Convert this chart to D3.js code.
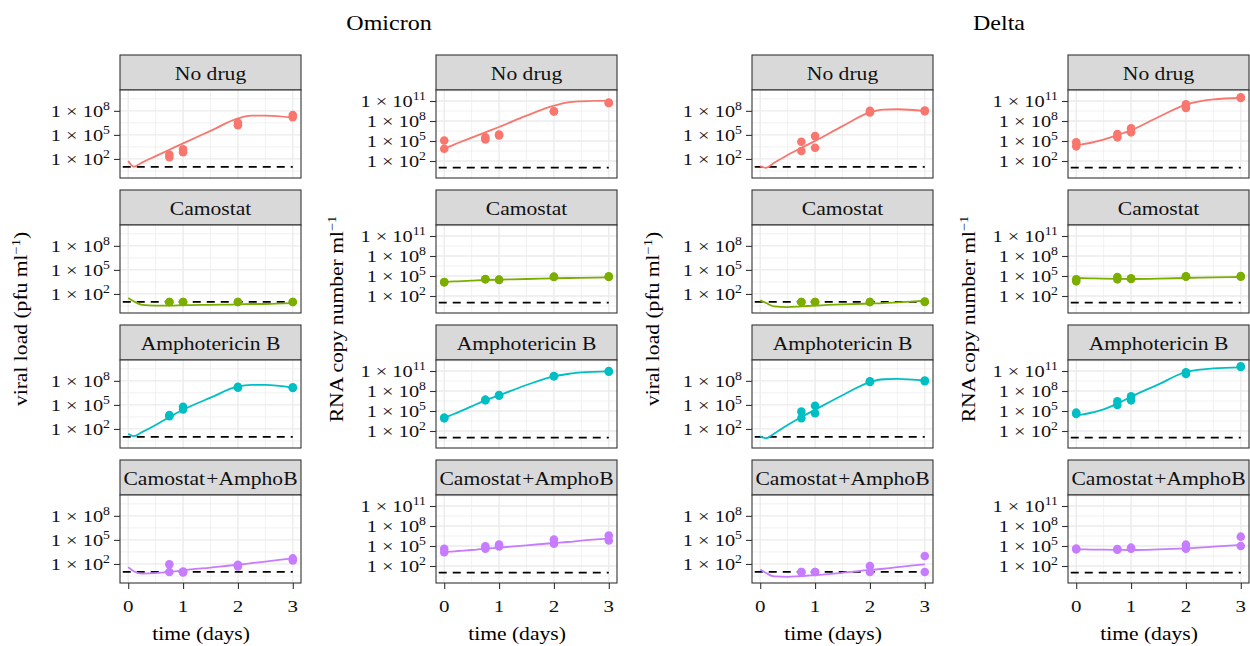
<!DOCTYPE html>
<html><head><meta charset="utf-8">
<script src="https://cdn.jsdelivr.net/npm/d3@7"></script>
<style>body{margin:0;background:#fff}</style>
</head><body>
<svg id="chart" width="1250" height="646"></svg>
<script>
// ---------- data ----------
const variants = ["Omicron", "Delta"];
const treatments = ["No drug", "Camostat", "Amphotericin B", "Camostat + AmphoB"];
const colours = ["#F8766D", "#7CAE00", "#00BFC4", "#C77CFF"];
const xTicks = [0, 1, 2, 3];
const pfuTicks = [2, 5, 8];          // log10 exponents
const rnaTicks = [2, 5, 8, 11];
const detectionLimitLog10 = 1;
const curveTimes = [0, 0.1, 0.25, 0.5, 0.75, 1, 1.5, 2, 2.25, 2.5, 3];
const pfuObsTimes = [0.75, 0.75, 1, 1, 2, 2, 3, 3];
const rnaObsTimes = [0, 0, 0.75, 0.75, 1, 1, 2, 2, 3, 3];

// model curves (log10 values at curveTimes), one row per treatment
const omicronPfuCurve = [
  [1.75, 1.05, 1.55, 2.35, 3.15, 3.95, 5.5, 7.05, 7.4, 7.4, 7.15],
  [1.5, 1.1, 0.65, 0.55, 0.55, 0.6, 0.65, 0.7, 0.75, 0.75, 0.85],
  [1.4, 1.1, 1.6, 2.5, 3.5, 4.4, 5.9, 7.3, 7.5, 7.5, 7.15],
  [1.6, 1.1, 0.8, 0.85, 1.0, 1.2, 1.55, 1.9, 2.1, 2.3, 2.7]
];
const omicronRnaCurve = [
  [3.9, 4.2, 4.7, 5.5, 6.3, 7.1, 8.8, 10.3, 10.8, 10.95, 11.05],
  [4.1, 4.15, 4.2, 4.3, 4.4, 4.45, 4.55, 4.65, 4.7, 4.72, 4.8],
  [3.95, 4.3, 4.8, 5.7, 6.6, 7.35, 8.9, 10.2, 10.55, 10.8, 10.95],
  [4.1, 4.15, 4.25, 4.4, 4.6, 4.75, 5.1, 5.45, 5.6, 5.8, 6.1]
];
const deltaPfuCurve = [
  [1.1, 0.9, 1.5, 2.5, 3.4, 4.25, 6.1, 7.8, 8.15, 8.2, 8.0],
  [1.2, 0.9, 0.45, 0.35, 0.45, 0.55, 0.7, 0.8, 0.85, 0.95, 1.15],
  [1.1, 0.85, 1.4, 2.5, 3.5, 4.4, 6.2, 7.85, 8.2, 8.25, 8.05],
  [1.3, 0.9, 0.45, 0.4, 0.5, 0.6, 0.9, 1.25, 1.4, 1.6, 1.95]
];
const deltaRnaCurve = [
  [4.45, 4.5, 4.7, 5.2, 5.9, 6.6, 8.6, 10.45, 10.95, 11.25, 11.45],
  [4.7, 4.68, 4.65, 4.6, 4.57, 4.55, 4.6, 4.7, 4.75, 4.8, 4.85],
  [4.35, 4.45, 4.7, 5.25, 6.1, 7.15, 9.0, 10.85, 11.2, 11.4, 11.55],
  [4.5, 4.5, 4.47, 4.45, 4.42, 4.4, 4.5, 4.65, 4.75, 4.9, 5.15]
];

// observations (log10 values at pfuObsTimes / rnaObsTimes)
const omicronPfuObs = [
  [2.23, 2.56, 2.85, 3.19, 6.2, 6.5, 7.22, 7.47],
  [1, 1, 1, 1, 1, 1, 1, 1],
  [3.6, 3.72, 4.44, 4.76, 7.14, 7.26, 7.1, 7.2],
  [1.0, 1.95, 0.95, 1.05, 1.7, 1.9, 2.44, 2.69]
];
const omicronRnaObs = [
  [3.83, 5.07, 5.22, 5.57, 5.82, 5.97, 9.42, 9.47, 10.7, 10.75],
  [4.05, 4.1, 4.5, 4.55, 4.42, 4.45, 4.85, 4.9, 4.85, 4.95],
  [3.9, 4.0, 6.6, 6.7, 7.3, 7.4, 10.2, 10.25, 10.9, 11.0],
  [4.07, 4.58, 4.58, 4.97, 4.92, 5.22, 5.33, 5.97, 5.82, 6.57]
];
const deltaPfuObs = [
  [3.0, 4.15, 3.4, 4.85, 7.8, 8.0, 7.95, 8.05],
  [1, 1, 1, 1, 1, 1, 1, 1.05],
  [3.33, 4.16, 3.95, 4.9, 7.85, 7.95, 7.95, 8.05],
  [1, 1, 1, 1, 1.0, 1.75, 1.0, 3.0]
];
const deltaRnaObs = [
  [4.2, 4.8, 5.55, 6.05, 6.3, 6.9, 9.95, 10.5, 11.45, 11.55],
  [4.2, 4.5, 4.5, 4.85, 4.55, 4.65, 4.9, 4.95, 4.9, 5.0],
  [4.55, 4.75, 5.9, 6.45, 6.6, 7.2, 10.55, 10.8, 11.6, 11.7],
  [4.5, 4.6, 4.45, 4.55, 4.6, 4.75, 4.6, 5.2, 5.0, 6.4]
];

// ---------- layout ----------
const FONT = "Liberation Serif, Times New Roman, serif";
const SX = 1.2; // horizontal stretch of glyphs
const colLeft = [120, 436, 752, 1068];
const panelW = 181;
const rowTop = [55, 190, 325, 460];
const stripH = 35, panelH = 88;

const columns = [
  {measure: "pfu", curves: omicronPfuCurve, obs: omicronPfuObs},
  {measure: "rna", curves: omicronRnaCurve, obs: omicronRnaObs},
  {measure: "pfu", curves: deltaPfuCurve, obs: deltaPfuObs},
  {measure: "rna", curves: deltaRnaCurve, obs: deltaRnaObs}
];

const svg = d3.select("#chart");
svg.append("rect").attr("width", 1250).attr("height", 646).attr("fill", "#fff");

function stext(parent, x, y, size, anchor, rotate) {
  const tr = `translate(${x},${y})` + (rotate ? " rotate(-90)" : "") + ` scale(${SX},1)`;
  return parent.append("text").attr("transform", tr)
    .attr("font-family", FONT).attr("font-size", size)
    .attr("text-anchor", anchor).attr("fill", "#000");
}
function powLabel(parent, x, y, exp) {
  const t = stext(parent, x, y, 17, "end").attr("dy", "0.35em").attr("fill", "#111");
  t.append("tspan").text("1 × 10");
  t.append("tspan").attr("font-size", 11.5).attr("dy", -7).text(exp);
}

// titles
stext(svg, 389, 30, 20, "middle").text(variants[0]);
stext(svg, 999, 30, 20, "middle").text(variants[1]);

const line = d3.line().curve(d3.curveMonotoneX);

columns.forEach((col, ci) => {
  const left = colLeft[ci];
  const x = d3.scaleLinear().domain([-0.15, 3.15]).range([left, left + panelW]);
  const isPfu = col.measure === "pfu";
  const yTicks = isPfu ? pfuTicks : rnaTicks;
  const yMinor = isPfu ? [0.5, 3.5, 6.5, 9.5] : [0.5, 3.5, 6.5, 9.5, 12.5];
  const yDom = isPfu ? [-0.375, 10.6] : [-0.55, 12.65];
  const obsTimes = isPfu ? pfuObsTimes : rnaObsTimes;

  treatments.forEach((name, ri) => {
    const top = rowTop[ri] + stripH, bottom = top + panelH;
    const y = d3.scaleLog().domain(yDom.map(e => Math.pow(10, e))).range([bottom, top]);
    const g = svg.append("g");
    // strip
    g.append("rect").attr("x", left).attr("y", rowTop[ri]).attr("width", panelW).attr("height", stripH)
      .attr("fill", "#D9D9D9").attr("stroke", "#333").attr("stroke-width", 1.1);
    const st = stext(g, left + panelW / 2, rowTop[ri] + 24.5, 18, "middle").attr("fill", "#111").text(name);
    if (name.indexOf("+") >= 0) st.attr("word-spacing", -3.5);
    // panel bg
    g.append("rect").attr("x", left).attr("y", top).attr("width", panelW).attr("height", panelH).attr("fill", "#fff");
    // grid
    const grid = g.append("g").attr("stroke", "#EBEBEB");
    [0.5, 1.5, 2.5].forEach(t => grid.append("line").attr("x1", x(t)).attr("x2", x(t)).attr("y1", top).attr("y2", bottom).attr("stroke-width", 0.7));
    yMinor.forEach(e => grid.append("line").attr("x1", left).attr("x2", left + panelW).attr("y1", y(Math.pow(10, e))).attr("y2", y(Math.pow(10, e))).attr("stroke-width", 0.7));
    xTicks.forEach(t => grid.append("line").attr("x1", x(t)).attr("x2", x(t)).attr("y1", top).attr("y2", bottom).attr("stroke-width", 1.3));
    yTicks.forEach(e => grid.append("line").attr("x1", left).attr("x2", left + panelW).attr("y1", y(Math.pow(10, e))).attr("y2", y(Math.pow(10, e))).attr("stroke-width", 1.3));
    // detection limit
    g.append("line").attr("x1", x(-0.1)).attr("x2", x(3)).attr("y1", y(Math.pow(10, detectionLimitLog10))).attr("y2", y(Math.pow(10, detectionLimitLog10)))
      .attr("stroke", "#000").attr("stroke-width", 1.7).attr("stroke-dasharray", "8,6");
    // curve
    const pts = curveTimes.map((t, i) => [x(t), y(Math.pow(10, col.curves[ri][i]))]);
    g.append("path").attr("d", line(pts)).attr("fill", "none").attr("stroke", colours[ri]).attr("stroke-width", 1.8);
    // points
    g.selectAll("circle.o").data(col.obs[ri]).enter().append("circle")
      .attr("cx", (v, i) => x(obsTimes[i])).attr("cy", v => y(Math.pow(10, v))).attr("r", 4.3)
      .attr("fill", colours[ri]);
    // border
    g.append("rect").attr("x", left).attr("y", top).attr("width", panelW).attr("height", panelH)
      .attr("fill", "none").attr("stroke", "#333").attr("stroke-width", 1.1);
    // y axis
    const ya = g.append("g").attr("transform", `translate(${left},0)`)
      .call(d3.axisLeft(y).tickValues(yTicks.map(e => Math.pow(10, e))).tickSize(6).tickFormat(""));
    ya.select(".domain").remove();
    ya.selectAll("line").attr("stroke", "#333").attr("stroke-width", 1.1);
    yTicks.forEach(e => powLabel(g, left - 10, y(Math.pow(10, e)), e));
    // x axis on bottom row
    if (ri === treatments.length - 1) {
      const xa = g.append("g").attr("transform", `translate(0,${bottom})`)
        .call(d3.axisBottom(x).tickValues(xTicks).tickSize(6).tickFormat(""));
      xa.select(".domain").remove();
      xa.selectAll("line").attr("stroke", "#333").attr("stroke-width", 1.1);
      xTicks.forEach(t => stext(g, x(t), 612, 17.5, "middle").attr("fill", "#111").text(t));
      stext(g, left + panelW / 2 - 9.5, 640, 18, "middle").text("time (days)");
    }
  });
  // y title
  const yt = stext(svg, left - 93, 319, 18, "middle", true);
  if (isPfu) {
    yt.append("tspan").text("viral load (pfu ml");
    yt.append("tspan").attr("font-size", 12).attr("dy", -7).text("−1");
    yt.append("tspan").attr("dy", 7).text(")");
  } else {
    yt.append("tspan").text("RNA copy number ml");
    yt.append("tspan").attr("font-size", 12).attr("dy", -7).text("−1");
  }
});
</script>
</body></html>
